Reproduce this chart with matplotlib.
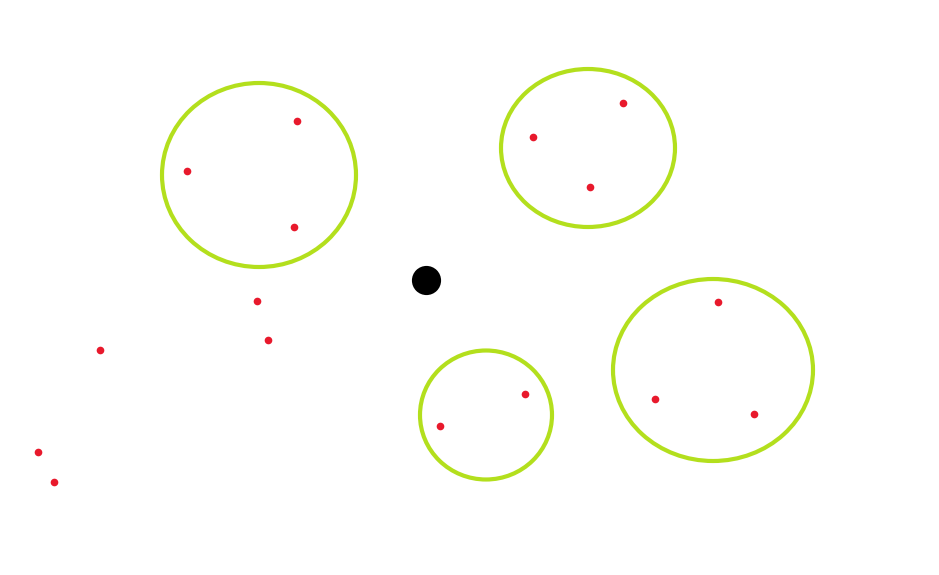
import matplotlib
matplotlib.use("Agg")
import matplotlib.pyplot as plt
from matplotlib.patches import Ellipse

# положения в пикселях исходной картинки (y вниз)
point_x = [297, 187, 294, 533, 623, 590, 257, 268, 100, 38, 54, 525, 440, 718, 655, 754]
point_y = [121, 171, 227, 137, 103, 187, 301, 340, 350, 452, 482, 394, 426, 302, 399, 414]

cluster_x = [259, 588, 486, 713]
cluster_y = [175, 148, 415, 370]
cluster_w = [194, 174, 132, 200]
cluster_h = [184, 158, 129, 182]

center_x = [426]
center_y = [280]

fig = plt.figure(figsize=(9.39, 5.75), dpi=100)
ax = fig.add_axes([0, 0, 1, 1])
ax.set_xlim(0, 939)
ax.set_ylim(575, 0)
ax.axis("off")

for cx, cy, w, h in zip(cluster_x, cluster_y, cluster_w, cluster_h):
    ax.add_patch(Ellipse((cx, cy), w, h, fill=False, edgecolor="#b3df1d", linewidth=3))

ax.plot(point_x, point_y, "o", color="#e8192c", markersize=5.5, markeredgewidth=0)
ax.plot(center_x, center_y, "o", color="black", markersize=21, markeredgewidth=0)

fig.savefig("out.png", dpi=100, facecolor="white")
